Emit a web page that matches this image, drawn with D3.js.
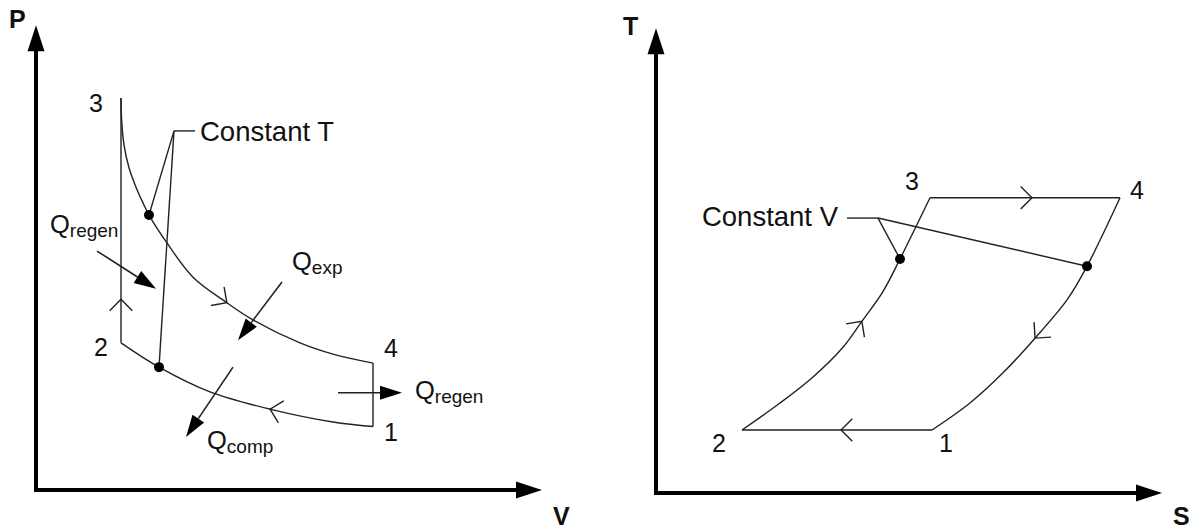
<!DOCTYPE html>
<html>
<head>
<meta charset="utf-8">
<script src="https://cdn.jsdelivr.net/npm/d3@7"></script>
<style>
  html, body { margin: 0; background: #fff; }
  svg { display: block; }
  text { font-family: "Liberation Sans", Arial, sans-serif; fill: #111; }
</style>
</head>
<body>
<svg id="chart" width="1199" height="529"></svg>
<script>
// ---------- Stirling cycle, P–V diagram (V, P in arbitrary units) ----------
const pvCompression = [[6.74,1.41],[5.94,1.51],[4.74,1.78],[3.48,2.18],[2.46,2.73],[1.70,3.27]];      // 1 → 2, isothermal
const pvHeating     = [[1.70,3.27],[1.70,8.71]];                                                       // 2 → 3, constant V
const pvExpansion   = [[1.70,8.71],[1.71,8.27],[1.76,7.67],[1.86,7.16],[2.00,6.73],[2.14,6.38],[2.26,6.11],
                       [2.62,5.49],[3.14,4.73],[3.82,4.16],[4.34,3.78],[5.28,3.27],[5.94,3.02],[6.74,2.82]]; // 3 → 4, isothermal
const pvCooling     = [[6.74,2.82],[6.74,1.41]];                                                       // 4 → 1, constant V
const pvStateLabels = [["3",1.20,8.40],["2",1.30,2.98],["4",7.10,2.96],["1",7.10,1.09]];
const pvConstT      = {text:"Constant T", knee:[2.76,7.98], end:[3.18,7.98], dots:[[2.26,6.11],[2.46,2.73]], at:[3.28,7.76]};
const pvChevrons    = [[4.68,1.78],[1.70,4.24],[3.82,4.16]];
const pvHeatFlows   = [
  {q:"Q", sub:"regen", from:[1.22,5.31], to:[2.40,4.47], at:[0.28,5.71]},
  {q:"Q", sub:"exp",   from:[4.92,4.62], to:[4.04,3.33], at:[5.12,4.89]},
  {q:"Q", sub:"comp",  from:[3.94,2.73], to:[3.00,1.18], at:[3.42,0.91]},
  {q:"Q", sub:"regen", from:[6.04,2.16], to:[7.32,2.16], at:[7.58,2.02]}
];

// ---------- Stirling cycle, T–S diagram (S, T in arbitrary units) ----------
const tsRejection   = [[5.52,1.40],[1.72,1.40]];                                                       // 1 → 2, constant T
const tsHeating     = [[1.72,1.40],[2.48,2.00],[3.14,2.58],[3.74,3.24],[4.12,3.82],[4.52,4.44],[4.88,5.20],[5.48,6.56]]; // 2 → 3
const tsAddition    = [[5.48,6.56],[9.28,6.56]];                                                       // 3 → 4, constant T
const tsCooling     = [[9.28,6.56],[8.62,5.04],[8.22,4.29],[7.58,3.44],[6.94,2.67],[6.28,2.00],[5.52,1.40]]; // 4 → 1
const tsStateLabels = [["3",5.12,6.73],["4",9.62,6.53],["2",1.26,0.91],["1",5.80,0.91]];
const tsConstV      = {text:"Constant V", knee:[4.44,6.11], end:[3.82,6.11], dots:[[4.88,5.20],[8.62,5.04]], at:[3.64,5.94]};
const tsChevrons    = [[4.08,3.84],[7.52,6.56],[7.58,3.44],[3.70,1.40]];

const svg = d3.select("#chart");
const INK = "#222";

function panel(cfg) {
  const x = d3.scaleLinear().domain([0, 10]).range(cfg.xRange);
  const y = d3.scaleLinear().domain([0, 10]).range(cfg.yRange);
  const g = svg.append("g");
  const line = d3.line().x(d => x(d[0])).y(d => y(d[1])).curve(d3.curveCatmullRom.alpha(0.5));

  // axes with arrowheads
  const ox = x(0), oy = y(0), topY = y(cfg.yMax), rightX = x(cfg.xMax);
  const headL = 26, headW = 8.5;
  g.append("path")
    .attr("d", `M${ox},${topY + headL - 1}L${ox},${oy}L${rightX - headL + 1},${oy}`)
    .attr("fill", "none").attr("stroke", "#000").attr("stroke-width", 4)
    .attr("stroke-linejoin", "miter").attr("stroke-linecap", "square");
  g.append("path").attr("d", `M${ox},${topY}L${ox - headW},${topY + headL}L${ox + headW},${topY + headL}Z`).attr("fill", "#000");
  g.append("path").attr("d", `M${rightX},${oy}L${rightX - headL},${oy - headW}L${rightX - headL},${oy + headW}Z`).attr("fill", "#000");
  g.append("text").attr("x", ox + cfg.yLabelDx).attr("y", topY + cfg.yLabelDy)
    .attr("font-size", 25).attr("font-weight", "bold").attr("fill", "#000").text(cfg.yLabel);
  g.append("text").attr("x", rightX + cfg.xLabelDx).attr("y", oy + cfg.xLabelDy)
    .attr("font-size", 25).attr("font-weight", "bold").attr("fill", "#000").text(cfg.xLabel);

  // cycle processes
  const paths = cfg.segments.map(seg =>
    g.append("path").attr("d", line(seg)).attr("fill", "none")
      .attr("stroke", INK).attr("stroke-width", 1.4).node());

  // direction chevrons, placed at the nearest point along the cycle
  cfg.chevrons.forEach(c => {
    const tx = x(c[0]), ty = y(c[1]);
    let best = null;
    paths.forEach(p => {
      const L = p.getTotalLength();
      for (let l = 0; l <= L; l += 0.5) {
        const pt = p.getPointAtLength(l);
        const d = (pt.x - tx) ** 2 + (pt.y - ty) ** 2;
        if (!best || d < best.d) best = {d, l, p, L};
      }
    });
    const a = best.p.getPointAtLength(Math.max(0, best.l - 2));
    const b = best.p.getPointAtLength(Math.min(best.L, best.l + 2));
    const tip = best.p.getPointAtLength(best.l);
    const back = Math.atan2(a.y - b.y, a.x - b.x);
    const len = 16;
    const p1 = [tip.x + len * Math.cos(back + Math.PI / 4), tip.y + len * Math.sin(back + Math.PI / 4)];
    const p2 = [tip.x + len * Math.cos(back - Math.PI / 4), tip.y + len * Math.sin(back - Math.PI / 4)];
    g.append("path").attr("d", `M${p1}L${tip.x},${tip.y}L${p2}`)
      .attr("fill", "none").attr("stroke", INK).attr("stroke-width", 1.4);
  });

  // leader for the constant-property lines
  const lead = cfg.leader;
  const k = [x(lead.knee[0]), y(lead.knee[1])];
  g.append("path").attr("d", `M${x(lead.end[0])},${y(lead.end[1])}L${k}`)
    .attr("fill", "none").attr("stroke", INK).attr("stroke-width", 1.4);
  lead.dots.forEach(dp => {
    g.append("line").attr("x1", k[0]).attr("y1", k[1]).attr("x2", x(dp[0])).attr("y2", y(dp[1]))
      .attr("stroke", INK).attr("stroke-width", 1.4);
  });
  lead.dots.forEach(dp => {
    g.append("circle").attr("cx", x(dp[0])).attr("cy", y(dp[1])).attr("r", 5).attr("fill", "#000");
  });
  g.append("text").attr("x", x(lead.at[0])).attr("y", y(lead.at[1]))
    .attr("text-anchor", cfg.leaderAnchor).attr("font-size", 27.5).text(lead.text);

  // state numbers
  cfg.states.forEach(s => {
    g.append("text").attr("x", x(s[1])).attr("y", y(s[2]))
      .attr("text-anchor", "middle").attr("font-size", 25).text(s[0]);
  });

  // heat-flow arrows
  (cfg.flows || []).forEach(f => {
    const x1 = x(f.from[0]), y1 = y(f.from[1]), x2 = x(f.to[0]), y2 = y(f.to[1]);
    const ang = Math.atan2(y2 - y1, x2 - x1);
    const hl = 22, hw = 7;
    const bx = x2 - hl * Math.cos(ang), by = y2 - hl * Math.sin(ang);
    g.append("line").attr("x1", x1).attr("y1", y1).attr("x2", bx).attr("y2", by)
      .attr("stroke", INK).attr("stroke-width", 1.6);
    g.append("path")
      .attr("d", `M${x2},${y2}L${bx + hw * Math.sin(ang)},${by - hw * Math.cos(ang)}L${bx - hw * Math.sin(ang)},${by + hw * Math.cos(ang)}Z`)
      .attr("fill", "#000");
    const t = g.append("text").attr("x", x(f.at[0])).attr("y", y(f.at[1])).attr("font-size", 25.5);
    t.append("tspan").text(f.q);
    t.append("tspan").attr("font-size", 19).attr("dy", 4).text(f.sub);
  });
}

panel({
  xRange: [36, 536], yRange: [490, 40], xMax: 10.12, yMax: 10.33,
  xLabel: "V", yLabel: "P", xLabelDx: 11, xLabelDy: 35, yLabelDx: -27, yLabelDy: 3,
  segments: [pvCompression, pvHeating, pvExpansion, pvCooling],
  chevrons: pvChevrons, leader: pvConstT, leaderAnchor: "start",
  states: pvStateLabels, flows: pvHeatFlows
});

panel({
  xRange: [656, 1156], yRange: [493, 43], xMax: 10.12, yMax: 10.33,
  xLabel: "S", yLabel: "T", xLabelDx: 11, xLabelDy: 32, yLabelDx: -33, yLabelDy: 7,
  segments: [tsRejection, tsHeating, tsAddition, tsCooling],
  chevrons: tsChevrons, leader: tsConstV, leaderAnchor: "end",
  states: tsStateLabels
});
</script>
</body>
</html>
